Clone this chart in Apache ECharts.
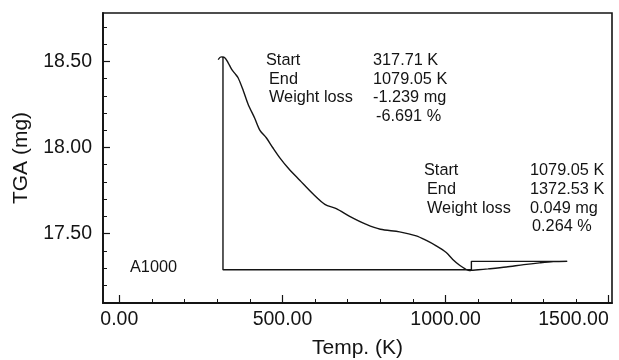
<!DOCTYPE html>
<html>
<head>
<meta charset="utf-8">
<script src="https://cdn.jsdelivr.net/npm/echarts@6/dist/echarts.min.js"></script>
<style>
  html, body { margin: 0; padding: 0; background: #fff; }
  #chart { width: 619px; height: 360px; }
</style>
</head>
<body>
<div id="chart"></div>
<script>
// TGA trace: temperature (K) and sample mass (mg)
const tempK = [303, 312, 322, 334, 344, 354, 364, 380, 395, 415, 431, 451, 470, 492, 520,
  553, 594, 630, 665, 706, 757, 800, 859, 910, 941, 970, 1002, 1022, 1043, 1060, 1072,
  1079.05, 1100, 1130, 1186, 1240, 1288, 1330, 1372.53];
const tgaMg = [18.510, 18.526, 18.524, 18.490, 18.455, 18.430, 18.405, 18.330, 18.250, 18.170,
  18.100, 18.055, 18.000, 17.940, 17.875, 17.810, 17.730, 17.670, 17.645, 17.600, 17.553,
  17.525, 17.510, 17.487, 17.460, 17.430, 17.390, 17.350, 17.316, 17.295, 17.285,
  17.287, 17.290, 17.295, 17.306, 17.320, 17.330, 17.337, 17.339];

// Weight-loss construction lines (start/end temperatures and levels)
const stepTemp = [317.71, 317.71, 1079.05, 1079.05, 1372.53];
const stepMg = [18.529, 17.29, 17.29, 17.339, 17.339];

// Axis ticks
const xMajorTicks = [0, 500, 1000, 1500];
const xMinorTicks = [100, 200, 300, 400, 600, 700, 800, 900, 1100, 1200, 1300, 1400];
const yMajorTicks = [17.5, 18.0, 18.5];
const yMinorTicks = [17.2, 17.3, 17.4, 17.6, 17.7, 17.8, 17.9, 18.1, 18.2, 18.3, 18.4, 18.6, 18.7];

// Step analysis text
const step1Names = ['Start', 'End', 'Weight loss'];
const step1Values = ['317.71 K', '1079.05 K', '-1.239 mg', '-6.691 %'];
const step2Names = ['Start', 'End', 'Weight loss'];
const step2Values = ['1079.05 K', '1372.53 K', '0.049 mg', '0.264 %'];
const sampleName = 'A1000';

const FONT = '"Liberation Sans", Arial, Helvetica, sans-serif';
const INK = '#141414';
const TICK_FS = 19.5;
const NAME_FS = 21;
const NOTE_FS = 16.3;

const chart = echarts.init(document.getElementById('chart'), null, { renderer: 'canvas' });

function txt(str, x, y, size) {
  return {
    type: 'text', left: x, top: y - size / 2, z: 10,
    style: { text: str, fill: INK, font: size + 'px ' + FONT }
  };
}

const graphics = [];
const rows1 = [61, 80, 98, 117];
const rows2 = [171, 190, 209, 227];
const nameX1 = [266, 269, 269];
const nameX2 = [424, 427, 427];
step1Names.forEach((s, i) => graphics.push(txt(s, nameX1[i], rows1[i], NOTE_FS)));
step1Values.forEach((s, i) => graphics.push(txt(s, i === 3 ? 376 : 373, rows1[i], NOTE_FS)));
step2Names.forEach((s, i) => graphics.push(txt(s, nameX2[i], rows2[i], NOTE_FS)));
step2Values.forEach((s, i) => graphics.push(txt(s, i === 3 ? 532 : 530, rows2[i], NOTE_FS)));
graphics.push(txt(sampleName, 130, 268, NOTE_FS));

const xRange = { min: -50, max: 1510 };
const yRange = { min: 17.097, max: 18.781 };

chart.setOption({
  animation: false,
  backgroundColor: '#fff',
  grid: {
    left: 103, top: 13, right: 7, bottom: 57,
    outerBoundsMode: 'none', containLabel: false,
    show: true, borderColor: INK, borderWidth: 1.6, backgroundColor: 'transparent'
  },
  xAxis: [
    {
      type: 'value', position: 'bottom', ...xRange,
      name: 'Temp. (K)', nameLocation: 'middle', nameGap: 35,
      nameTextStyle: { color: INK, fontSize: NAME_FS, fontFamily: FONT },
      axisLine: { show: true, onZero: false, lineStyle: { color: INK, width: 1.8 } },
      axisTick: { show: true, inside: true, length: 8, customValues: xMajorTicks, lineStyle: { color: INK, width: 1.2 } },
      axisLabel: { customValues: xMajorTicks, margin: 7, color: INK, fontSize: TICK_FS, fontFamily: FONT,
        alignMaxLabel: 'right', formatter: v => v.toFixed(2) },
      splitLine: { show: false }
    },
    {
      type: 'value', position: 'bottom', offset: 0, ...xRange,
      axisLine: { show: false, onZero: false },
      axisTick: { show: true, inside: true, length: 4, customValues: xMinorTicks, lineStyle: { color: INK, width: 1 } },
      axisLabel: { show: false },
      splitLine: { show: false }
    }
  ],
  yAxis: [
    {
      type: 'value', position: 'left', ...yRange,
      name: 'TGA (mg)', nameLocation: 'middle', nameGap: 71,
      nameTextStyle: { color: INK, fontSize: NAME_FS, fontFamily: FONT },
      axisLine: { show: true, onZero: false, lineStyle: { color: INK, width: 1.8 } },
      axisTick: { show: true, inside: true, length: 7, customValues: yMajorTicks, lineStyle: { color: INK, width: 1.2 } },
      axisLabel: { customValues: yMajorTicks, margin: 11, color: INK, fontSize: TICK_FS, fontFamily: FONT,
        formatter: v => v.toFixed(2) },
      splitLine: { show: false }
    },
    {
      type: 'value', position: 'left', offset: 0, ...yRange,
      axisLine: { show: false, onZero: false },
      axisTick: { show: true, inside: true, length: 4, customValues: yMinorTicks, lineStyle: { color: INK, width: 1 } },
      axisLabel: { show: false },
      splitLine: { show: false }
    }
  ],
  series: [
    {
      name: 'TGA', type: 'line', xAxisIndex: 0, yAxisIndex: 0,
      data: tempK.map((t, i) => [t, tgaMg[i]]),
      showSymbol: false, smooth: 0.3,
      lineStyle: { color: INK, width: 1.4 }
    },
    {
      name: 'Steps', type: 'line', xAxisIndex: 0, yAxisIndex: 0,
      data: stepTemp.map((t, i) => [t, stepMg[i]]),
      showSymbol: false,
      lineStyle: { color: INK, width: 1.4 }
    }
  ],
  graphic: graphics
});
</script>
</body>
</html>
